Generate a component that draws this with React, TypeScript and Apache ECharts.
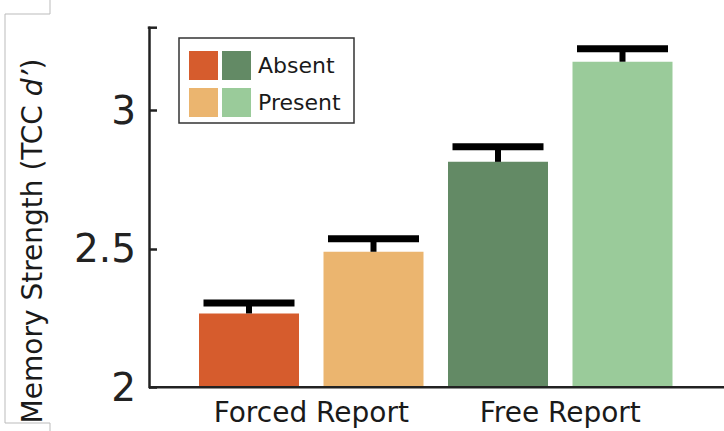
import React, { useEffect, useRef } from "react";
import * as echarts from "echarts";

// Group labels along the x axis and the condition legend
const reportTypes = ["Forced Report", "Free Report"];
const conditions = ["Absent", "Present"];

// One bar per report type × condition
const barNames = [
  "Forced Report – Absent",
  "Forced Report – Present",
  "Free Report – Absent",
  "Free Report – Present",
];
const meanStrength = [2.267, 2.49, 2.815, 3.177];
const upperError = [2.305, 2.537, 2.87, 3.224];
const barColors = ["#D65C2D", "#EBB56F", "#638A65", "#9ACB9A"];

// Value axis
const yMin = 2;
const yMax = 3.3;
const yStep = 0.5;
const yTitle = "Memory Strength (TCC {i|d’})";

const FONT = "'DejaVu Sans', 'Noto Sans', sans-serif";

export default function App() {
  const ref = useRef<HTMLDivElement>(null);

  useEffect(() => {
    if (!ref.current) return;
    const chart = echarts.init(ref.current, null, { renderer: "svg" });

    const gridLeft = 186.75;
    const axisX = 149;

    chart.setOption({
      animation: false,
      backgroundColor: "#ffffff",
      grid: { left: gridLeft, right: 39.25, top: 27.7, bottom: 43.7, containLabel: false },
      xAxis: [
        {
          type: "category",
          data: barNames,
          axisLine: { show: false },
          axisTick: { show: false },
          axisLabel: { show: false },
        },
        {
          type: "category",
          data: reportTypes,
          position: "bottom",
          axisLine: { show: false },
          axisTick: { show: false },
          axisLabel: {
            interval: 0,
            hideOverlap: false,
            fontFamily: FONT,
            fontSize: 28,
            color: "#1a1a1a",
            margin: 11,
          },
        },
      ],
      yAxis: {
        type: "value",
        min: yMin,
        max: yMax,
        interval: yStep,
        offset: gridLeft - axisX,
        axisLine: { show: true, lineStyle: { color: "#222", width: 2.5 } },
        axisTick: { show: true, inside: true, length: 8, lineStyle: { color: "#222", width: 2.5 } },
        splitLine: { show: false },
        axisLabel: {
          fontFamily: FONT,
          fontSize: 39,
          color: "#222",
          margin: 13,
          showMaxLabel: false,
          formatter: (v: number) => String(v),
        },
      },
      series: [
        {
          type: "bar",
          xAxisIndex: 0,
          barWidth: 100,
          data: meanStrength.map((v, i) => ({ value: v, itemStyle: { color: barColors[i] } })),
        },
        {
          type: "custom",
          xAxisIndex: 0,
          z: 5,
          encode: { x: 0, y: [1, 2] },
          data: meanStrength.map((v, i) => [i, v, upperError[i]]),
          renderItem: (params: any, api: any) => {
            const idx = api.value(0);
            const base = api.coord([idx, api.value(1)]);
            const top = api.coord([idx, api.value(2)]);
            return {
              type: "group",
              children: [
                {
                  type: "line",
                  shape: { x1: base[0], y1: base[1], x2: top[0], y2: top[1] },
                  style: { stroke: "#000", lineWidth: 6 },
                },
                {
                  type: "line",
                  shape: { x1: top[0] - 45.5, y1: top[1], x2: top[0] + 45.5, y2: top[1] },
                  style: { stroke: "#000", lineWidth: 7 },
                },
              ],
            };
          },
        },
      ],
    });

    const yTop = chart.convertToPixel({ yAxisIndex: 0 }, yMax) as number;
    const yBase = chart.convertToPixel({ yAxisIndex: 0 }, yMin) as number;

    const legendX = 179;
    const legendY = 38;
    const sw = 29;

    chart.setOption({
      graphic: [
        // baseline across the full width
        {
          type: "line",
          shape: { x1: axisX, y1: yBase, x2: 724, y2: yBase },
          style: { stroke: "#222", lineWidth: 2.5 },
          z: 10,
        },
        // end tick at the top of the value axis
        {
          type: "line",
          shape: { x1: axisX - 1.25, y1: yTop, x2: axisX + 8, y2: yTop },
          style: { stroke: "#222", lineWidth: 2.5 },
          z: 10,
        },
        // frame around the axis title
        {
          type: "polyline",
          shape: { points: [[50, 0], [50, 14], [5, 14], [5, 423], [50, 423], [50, 431]] },
          style: { stroke: "#bbb", lineWidth: 1, fill: null },
        },
        {
          type: "text",
          x: 32,
          y: 241,
          rotation: Math.PI / 2,
          style: {
            text: yTitle,
            fontFamily: FONT,
            fontSize: 28,
            fill: "#1a1a1a",
            align: "center",
            verticalAlign: "middle",
            rich: { i: { fontStyle: "italic", fontFamily: FONT, fontSize: 28, fill: "#1a1a1a" } },
          },
        },
        // legend
        {
          type: "rect",
          shape: { x: legendX, y: legendY, width: 175, height: 85 },
          style: { fill: "#fff", stroke: "#333", lineWidth: 1.5 },
          z: 20,
        },
        ...conditions.flatMap((name, row) => {
          const y = 51 + row * 37;
          return [
            {
              type: "rect",
              shape: { x: 189, y, width: sw, height: sw },
              style: { fill: barColors[row] },
              z: 21,
            },
            {
              type: "rect",
              shape: { x: 222, y, width: sw, height: sw },
              style: { fill: barColors[2 + row] },
              z: 21,
            },
            {
              type: "text",
              x: 258,
              y: y + sw / 2,
              style: {
                text: name,
                fontFamily: FONT,
                fontSize: 22,
                fill: "#1a1a1a",
                verticalAlign: "middle",
              },
              z: 21,
            },
          ];
        }),
      ],
    });

    return () => chart.dispose();
  }, []);

  return (
    <div
      ref={ref}
      style={{ position: "fixed", left: 0, top: 0, width: 724, height: 431, background: "#fff" }}
    />
  );
}
